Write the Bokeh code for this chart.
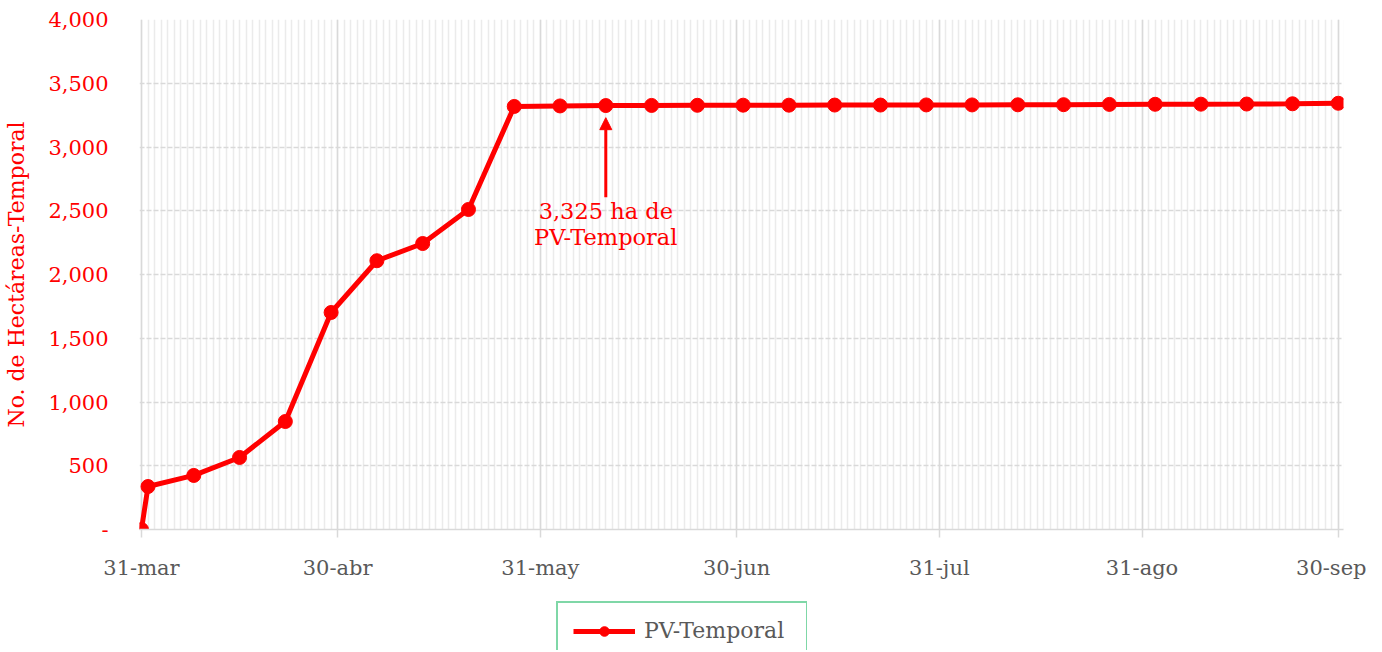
import pandas as pd
from bokeh.plotting import figure
from bokeh.layouts import column, row
from bokeh.models import (FixedTicker, Legend, LegendItem, Arrow, NormalHead,
                          ColumnDataSource, Range1d, Label, Spacer)
from bokeh.embed import file_html
from bokeh.resources import INLINE

# ---------------- data ----------------
dates = ["31-mar", "1-abr", "8-abr", "15-abr", "22-abr", "29-abr", "6-may",
         "13-may", "20-may", "27-may", "3-jun", "10-jun", "17-jun", "24-jun",
         "1-jul", "8-jul", "15-jul", "22-jul", "29-jul", "5-ago", "12-ago",
         "19-ago", "26-ago", "2-sep", "9-sep", "16-sep", "23-sep", "30-sep"]
values = [0, 337, 424, 565, 847, 1702, 2108, 2243, 2510, 3318, 3322, 3325,
          3326, 3327, 3328, 3328, 3329, 3329, 3330, 3330, 3331, 3332, 3334,
          3335, 3336, 3337, 3339, 3343]
series_name = "PV-Temporal"

x_tick_dates = ["31-mar", "30-abr", "31-may", "30-jun", "31-jul", "31-ago", "30-sep"]
y_ticks = [0, 500, 1000, 1500, 2000, 2500, 3000, 3500, 4000]
y_tick_labels = ["-", "500", "1,000", "1,500", "2,000", "2,500", "3,000", "3,500", "4,000"]
y_title = "No. de Hectáreas-Temporal"

ann_date = "10-jun"
ann_lines = ["3,325 ha de", "PV-Temporal"]

# ---------------- helpers ----------------
MES = {"ene": 1, "feb": 2, "mar": 3, "abr": 4, "may": 5, "jun": 6, "jul": 7,
       "ago": 8, "sep": 9, "oct": 10, "nov": 11, "dic": 12}
YEAR = 2023
origin = pd.Timestamp(YEAR, 3, 31)


def day(s):
    d, m = s.split("-")
    return (pd.Timestamp(YEAR, MES[m], int(d)) - origin).days


xs = [day(d) for d in dates]
x_ticks = [day(d) for d in x_tick_dates]
all_days = list(range(0, 185))

FONT = "DejaVu Serif"
RED = "#ff0000"
GRAY_TXT = "#595959"

p = figure(width=1366, height=600, output_backend="svg", toolbar_location=None,
           x_range=Range1d(-0.3, 183.8), y_range=Range1d(0, 4000),
           min_border_left=139, min_border_right=23, min_border_top=19,
           min_border_bottom=71)
p.outline_line_color = None
p.background_fill_color = "white"

# x axis
p.xaxis.ticker = FixedTicker(ticks=x_ticks, minor_ticks=all_days)
p.xaxis.major_label_overrides = {t: l for t, l in zip(x_ticks, x_tick_dates)}
p.xaxis.axis_line_color = "#d9d9d9"
p.xaxis.axis_line_width = 1.5
p.xaxis.major_tick_line_color = "#d9d9d9"
p.xaxis.major_tick_line_width = 1.5
p.xaxis.major_tick_out = 8
p.xaxis.major_tick_in = 0
p.xaxis.minor_tick_line_color = None
p.xaxis.major_label_standoff = 18
p.xaxis.major_label_text_font = FONT
p.xaxis.major_label_text_font_size = "21px"
p.xaxis.major_label_text_color = GRAY_TXT

# y axis
p.yaxis.ticker = FixedTicker(ticks=y_ticks)
p.yaxis.major_label_overrides = {t: l for t, l in zip(y_ticks, y_tick_labels)}
p.yaxis.axis_line_color = None
p.yaxis.major_tick_line_color = None
p.yaxis.minor_tick_line_color = None
p.yaxis.major_tick_out = 0
p.yaxis.major_tick_in = 0
p.yaxis.major_label_standoff = 31
p.yaxis.major_label_text_font = FONT
p.yaxis.major_label_text_font_size = "21px"
p.yaxis.major_label_text_color = RED
p.yaxis.axis_label = y_title
p.yaxis.axis_label_text_font = FONT
p.yaxis.axis_label_text_font_size = "22px"
p.yaxis.axis_label_text_font_style = "normal"
p.yaxis.axis_label_text_color = RED
p.yaxis.axis_label_standoff = 16

# grids
p.xgrid.grid_line_color = "#d9d9d9"
p.xgrid.grid_line_width = 1.5
p.xgrid.minor_grid_line_color = "#ebebeb"
p.xgrid.minor_grid_line_width = 1.5
p.ygrid.grid_line_color = "#d9d9d9"
p.ygrid.grid_line_width = 1.5
p.ygrid.grid_line_dash = "5 2"

src = ColumnDataSource(dict(x=xs, y=values))
p.line("x", "y", source=src, line_color=RED, line_width=5)
p.scatter("x", "y", source=src, size=14, fill_color=RED, line_color=RED)

# annotation
ax = day(ann_date)
av = values[dates.index(ann_date)]
p.add_layout(Arrow(end=NormalHead(size=12, fill_color=RED, line_color=RED, line_width=1),
                   x_start=ax, y_start=av - 720, x_end=ax, y_end=av - 95,
                   line_color=RED, line_width=3))
for i, t in enumerate(ann_lines):
    p.add_layout(Label(x=ax, y=av - 825 - i * 205, text=t, text_align="center",
                       text_baseline="middle", text_font=FONT,
                       text_font_size="22.5px", text_color=RED))

# legend in a small companion figure below the chart
lf = figure(width=252, height=50, output_backend="svg", toolbar_location=None,
            x_range=Range1d(-1000, -999), y_range=Range1d(-1000, -999),
            x_axis_location=None, y_axis_location=None,
            min_border=0, min_border_left=0, min_border_right=0,
            min_border_top=0, min_border_bottom=0)
lf.outline_line_color = None
lf.grid.visible = False
l_line = lf.line("x", "y", source=src, line_color=RED, line_width=5)
l_scat = lf.scatter("x", "y", source=src, size=14, fill_color=RED, line_color=RED)
legend = Legend(items=[LegendItem(label=series_name, renderers=[l_line, l_scat])],
                location="top_left", orientation="horizontal", margin=1,
                padding=15, glyph_width=62, glyph_height=24, label_height=24,
                label_standoff=9, label_width=147,
                label_text_font=FONT, label_text_font_size="22px",
                label_text_color=GRAY_TXT, border_line_color="#00b050",
                border_line_width=2, background_fill_alpha=1)
lf.add_layout(legend, "center")

layout = column(p, row(Spacer(width=555, height=50), lf, spacing=0), spacing=0)

open("out.html", "w").write(file_html(layout, INLINE))
